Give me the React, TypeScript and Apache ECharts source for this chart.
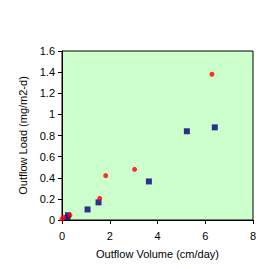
import React, { useEffect, useRef } from "react";
import * as echarts from "echarts";

const redX = [0.0, 0.07, 0.33, 1.58, 1.83, 3.04, 6.28];
const redY = [0.01, 0.025, 0.045, 0.205, 0.42, 0.48, 1.38];
const blueX = [0.22, 0.25, 1.07, 1.53, 3.64, 5.23, 6.4];
const blueY = [0.02, 0.045, 0.1, 0.167, 0.365, 0.84, 0.877];

const xTitle = "Outflow Volume (cm/day)";
const yTitle = "Outflow Load (mg/m2-d)";

export default function App() {
  const ref = useRef<HTMLDivElement>(null);
  useEffect(() => {
    if (!ref.current) return;
    const chart = echarts.init(ref.current, undefined, { renderer: "svg" });
    const font = "Liberation Sans, Arial, sans-serif";
    chart.setOption({
      animation: false,
      backgroundColor: "#ffffff",
      grid: {
        left: 62,
        right: 27,
        top: 51,
        bottom: 49,
        show: true,
        backgroundColor: "#CCFFCC",
        borderColor: "#000",
        borderWidth: 1,
      },
      xAxis: {
        type: "value",
        min: 0,
        max: 8,
        interval: 2,
        name: xTitle,
        nameLocation: "middle",
        nameGap: 28,
        nameTextStyle: { fontFamily: font, fontSize: 11, color: "#000" },
        axisLine: { show: true, onZero: false, lineStyle: { color: "#000", width: 1 } },
        axisTick: { show: true, inside: false, length: 4, lineStyle: { color: "#000" } },
        axisLabel: { fontFamily: font, fontSize: 11, color: "#000", margin: 10 },
        splitLine: { show: false },
      },
      yAxis: {
        type: "value",
        min: 0,
        max: 1.6,
        interval: 0.2,
        name: yTitle,
        nameLocation: "middle",
        nameGap: 30,
        nameTextStyle: { fontFamily: font, fontSize: 11, color: "#000" },
        axisLine: { show: true, onZero: false, lineStyle: { color: "#000", width: 1 } },
        axisTick: { show: true, inside: false, length: 4, lineStyle: { color: "#000" } },
        axisLabel: {
          fontFamily: font,
          fontSize: 11,
          color: "#000",
          margin: 7,
          formatter: (v: number) => String(Math.round(v * 10) / 10),
        },
        splitLine: { show: false },
      },
      series: [
        {
          type: "scatter",
          data: blueX.map((x, i) => [x, blueY[i]]),
          symbol: "rect",
          symbolSize: 6,
          itemStyle: { color: "#000080" },
        },
        {
          type: "scatter",
          data: redX.map((x, i) => [x, redY[i]]),
          symbol: "circle",
          symbolSize: 5,
          itemStyle: { color: "#FF0000" },
        },
      ],
    });
    return () => chart.dispose();
  }, []);
  return (
    <div
      ref={ref}
      style={{ position: "fixed", left: 0, top: 0, width: 280, height: 269 }}
    />
  );
}
